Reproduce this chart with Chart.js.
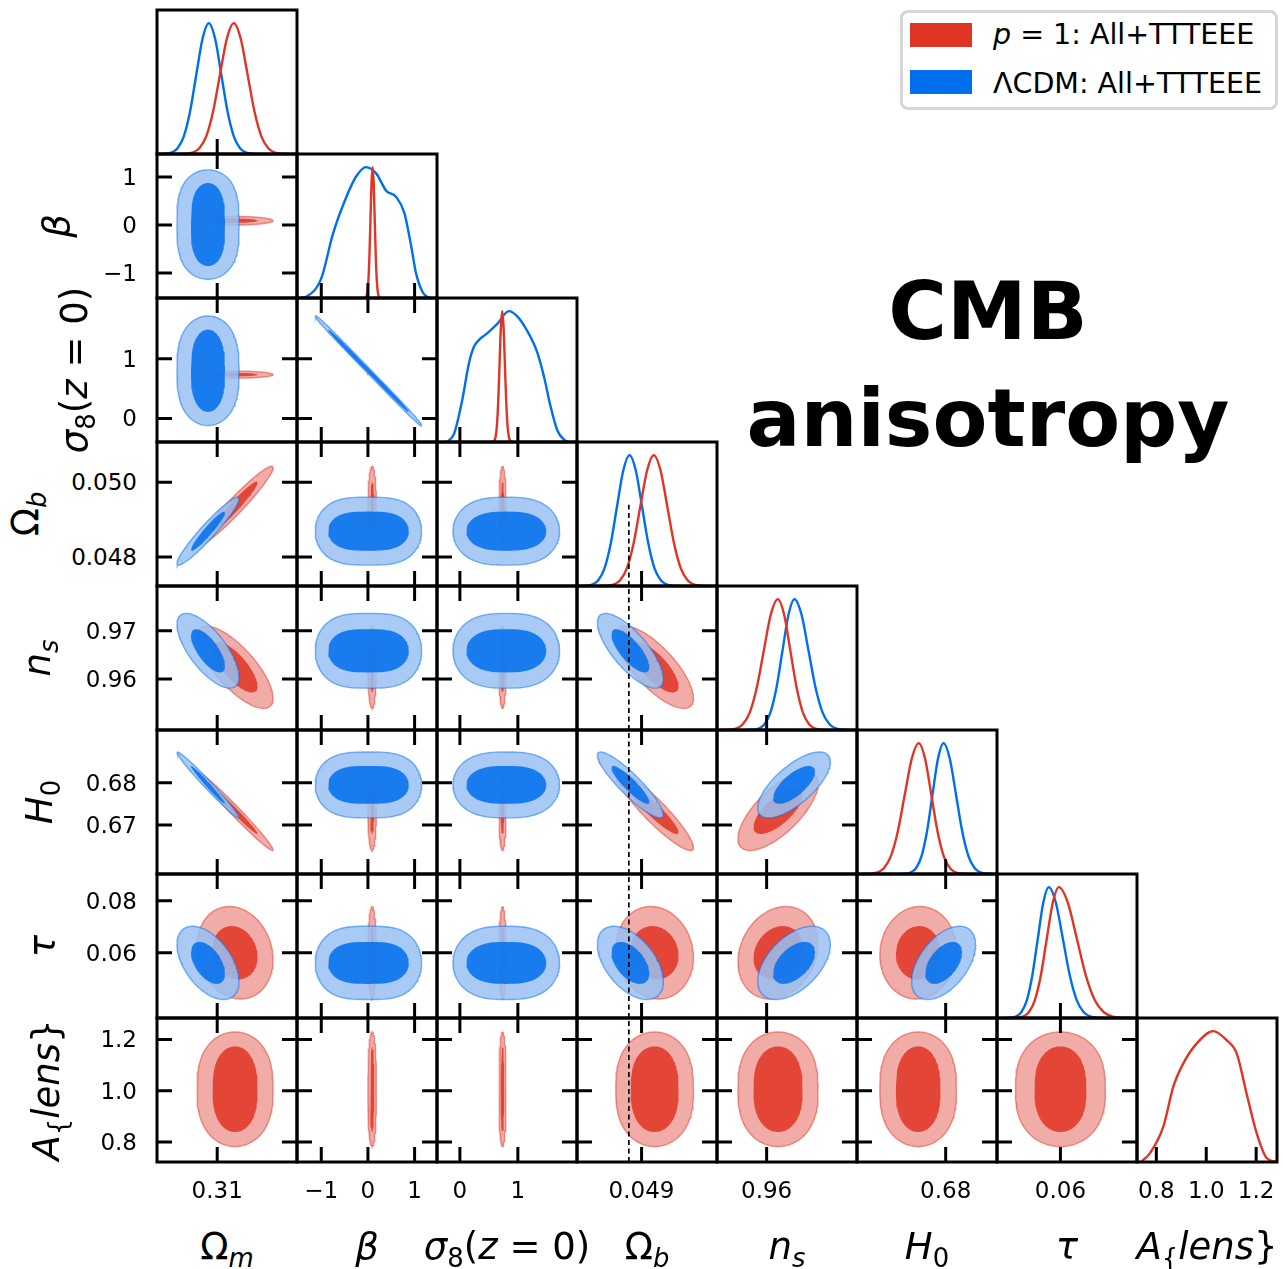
<!DOCTYPE html>
<html>
<head>
<meta charset="utf-8">
<title>CMB anisotropy triangle plot</title>
<script src="https://cdn.jsdelivr.net/npm/chart.js@4.4.1/dist/chart.umd.min.js"></script>
<style>
  html, body { margin: 0; padding: 0; background: #fff; }
  #fig { position: relative; width: 1283px; height: 1269px; overflow: hidden; font-family: "DejaVu Sans", sans-serif; color: #000; }
  #fig canvas { position: absolute; }
  .txt { position: absolute; white-space: nowrap; }
  .tick { font-size: 23px; line-height: 23px; }
  .axis { font-size: 37px; line-height: 37px; }
  .sb { font-size: 0.7em; position: relative; top: 0.3em; }
  #legend { position: absolute; left: 900px; top: 10px; width: 378px; height: 100px; box-sizing: border-box; border: 3px solid #d6d6d6; border-radius: 8px; background: #fff; }
  .swatch { position: absolute; left: 910px; width: 62px; height: 24px; }
  .legtxt { font-size: 28.5px; line-height: 28px; }
  .title { font-size: 80px; line-height: 80px; font-weight: bold; }
</style>
</head>
<body>
<div id="fig"></div>
<script>
// parameters, in triangle order
const paramLabels = [
  'Ω<span class="sb"><i>m</i></span>',
  '<i>β</i>',
  '<i>σ</i><span class="sb">8</span>(<i>z</i> = 0)',
  'Ω<span class="sb"><i>b</i></span>',
  '<i>n</i><span class="sb"><i>s</i></span>',
  '<i>H</i><span class="sb">0</span>',
  '<i>τ</i>',
  '<i>A</i><span class="sb">{</span><i>lens</i>}'
];
const axisMin = [0.2928, -1.52, -0.395, 0.04722, 0.9494, 0.6584, 0.0349, 0.7225];
const axisMax = [0.3328, 1.48, 2.02, 0.05108, 0.9793, 0.6925, 0.0903, 1.2835];

const xTickValues = [[0.31], [-1, 0, 1], [0, 1], [0.049], [0.96], [0.68], [0.06], [0.8, 1.0, 1.2]];
const xTickLabels = [["0.31"], ["−1", "0", "1"], ["0", "1"], ["0.049"], ["0.96"], ["0.68"], ["0.06"], ["0.8", "1.0", "1.2"]];
const yTickValues = [[], [-1, 0, 1], [0, 1], [0.048, 0.05], [0.96, 0.97], [0.67, 0.68], [0.06, 0.08], [0.8, 1.0, 1.2]];
const yTickLabels = [[], ["−1", "0", "1"], ["0", "1"], ["0.048", "0.050"], ["0.96", "0.97"], ["0.67", "0.68"], ["0.06", "0.08"], ["0.8", "1.0", "1.2"]];

// 1D marginals (peak normalised to 1)
const gaussProfile = [0.0003, 0.002, 0.011, 0.044, 0.135, 0.325, 0.607, 0.882, 1, 0.882, 0.607, 0.325, 0.135, 0.044, 0.011, 0.002, 0.0003];
const omegaMBlueX = [0.29332, 0.29511, 0.29689, 0.29868, 0.30046, 0.30225, 0.30403, 0.30582, 0.3076, 0.30939, 0.31117, 0.31296, 0.31474, 0.31653, 0.31831, 0.3201, 0.32188];
const omegaMRedX = [0.29898, 0.30095, 0.30292, 0.30489, 0.30686, 0.30883, 0.3108, 0.31277, 0.31474, 0.31671, 0.31868, 0.32065, 0.32262, 0.32459, 0.32656, 0.32853, 0.3305];
const betaBlueX = [-1.45, -1.32, -1.0, -0.75, -0.465, -0.25, -0.04, 0.18, 0.39, 0.61, 0.78, 0.93, 1.03, 1.18, 1.32];
const betaBlueY = [0, 0.01, 0.15, 0.49, 0.77, 0.93, 1.0, 0.95, 0.82, 0.77, 0.65, 0.39, 0.19, 0.04, 0];
const betaRedX = [-0.08, -0.0575, -0.035, -0.0125, 0.01, 0.0325, 0.055, 0.0775, 0.1, 0.1225, 0.145, 0.1675, 0.19, 0.2125, 0.235, 0.2575, 0.28];
const sigma8BlueX = [-0.22, -0.1, 0.04, 0.155, 0.24, 0.33, 0.47, 0.64, 0.845, 0.99, 1.16, 1.33, 1.45, 1.56, 1.68, 1.79, 1.88];
const sigma8BlueY = [0, 0.064, 0.32, 0.6, 0.725, 0.78, 0.83, 0.9, 1.0, 0.96, 0.85, 0.69, 0.5, 0.28, 0.09, 0.02, 0];
const sigma8RedX = [0.55, 0.5725, 0.595, 0.6175, 0.64, 0.6625, 0.685, 0.7075, 0.73, 0.7525, 0.775, 0.7975, 0.82, 0.8425, 0.865, 0.8875, 0.91];
const omegaBBlueX = [0.047288, 0.047461, 0.047633, 0.047806, 0.047978, 0.048151, 0.048323, 0.048496, 0.048668, 0.048841, 0.049013, 0.049186, 0.049358, 0.049531, 0.049703, 0.049876, 0.050048];
const omegaBRedX = [0.04785, 0.048036, 0.048222, 0.048408, 0.048594, 0.04878, 0.048966, 0.049152, 0.049338, 0.049524, 0.04971, 0.049896, 0.050082, 0.050268, 0.050454, 0.05064, 0.050826];
const nsBlueX = [0.9557, 0.95698, 0.95826, 0.95954, 0.96082, 0.96211, 0.96339, 0.96467, 0.96595, 0.96745, 0.96894, 0.97044, 0.97193, 0.97343, 0.97492, 0.97642, 0.97791];
const nsRedX = [0.95043, 0.95192, 0.95342, 0.95491, 0.95641, 0.9579, 0.9594, 0.96089, 0.96239, 0.96373, 0.96506, 0.9664, 0.96773, 0.96907, 0.9704, 0.97174, 0.97307];
const h0BlueX = [0.66875, 0.67009, 0.67143, 0.67277, 0.67411, 0.67545, 0.67679, 0.67813, 0.67947, 0.68099, 0.68251, 0.68404, 0.68556, 0.68708, 0.6886, 0.69012, 0.69165];
const h0RedX = [0.65981, 0.66152, 0.66322, 0.66493, 0.66663, 0.66834, 0.67004, 0.67175, 0.67345, 0.67497, 0.67649, 0.67802, 0.67954, 0.68106, 0.68258, 0.6841, 0.68563];
const tauBlueX = [0.03799, 0.04016, 0.04234, 0.04452, 0.04669, 0.04887, 0.05105, 0.05322, 0.0554, 0.05817, 0.06094, 0.06371, 0.06648, 0.06925, 0.07202, 0.07479, 0.07756];
const tauRedX = [0.04036, 0.04274, 0.04511, 0.04749, 0.04986, 0.05224, 0.05461, 0.05699, 0.05936, 0.06292, 0.06648, 0.07005, 0.07361, 0.07717, 0.08073, 0.08429, 0.08785];
const aLensRedX = [0.738, 0.774, 0.828, 0.868, 0.908, 0.962, 1.028, 1.082, 1.122, 1.162, 1.202, 1.242, 1.283];
const aLensRedY = [0, 0.066, 0.27, 0.575, 0.753, 0.906, 1.0, 0.93, 0.83, 0.52, 0.22, 0.03, 0];

// 2D contours: centre and half-extent of the 68% / 95% regions
const redCentre = [0.3151, 0.09, 0.735, 0.04936, 0.96243, 0.6733, 0.06, 1.006];
const redHalf68 = [0.00643, 0.045, 0.03, 0.00066, 0.00524, 0.00543, 0.01027, 0.1668];
const redHalf95 = [0.01086, 0.09, 0.06, 0.00107, 0.00855, 0.00933, 0.0178, 0.2233];
const redBoxiness = [2, 2, 2, 2, 2, 2, 2, 2.6];
const blueCentre = [0.30737, 0.01, 0.8, 0.04869, 0.96585, 0.6795, 0.0561, null];
const blueHalf68 = [0.00486, 0.865, 0.69, 0.000524, 0.00449, 0.00449, 0.00808, null];
const blueHalf95 = [0.00886, 1.14, 0.92, 0.00091, 0.00776, 0.0078, 0.0141, null];
const blueBoxiness = [2, 3.2, 2.8, 2, 2, 2, 2, 2];
// lower triangle: row j holds the correlation of parameter j with parameters 0..j-1
const redCorrelation = [
  [],
  [0],
  [0, -0.99],
  [0.96, 0, 0],
  [-0.75, 0, 0, -0.75],
  [-0.985, 0, 0, -0.92, 0.7],
  [-0.15, 0, 0, -0.1, 0.2, 0.05],
  [0, 0, 0, 0, 0, 0, 0]
];
const blueCorrelation = [
  [],
  [0],
  [0, -0.998],
  [0.95, 0, 0],
  [-0.7, 0, 0, -0.75],
  [-0.985, 0, 0, -0.9, 0.7],
  [-0.5, 0, 0, -0.5, 0.5, 0.5],
  [0, 0, 0, 0, 0, 0, 0]
];

const fiducialOmegaB = 0.04865;
const fiducialTop1D = 0.62;

// ------------------------------------------------------------------
const panelLeft = 157, panelTop = 10, panelW = 140, panelH = 144, margin = 6, tickLen = 15;
const redLine = "#E03424", blueLine = "#006FED";
const yLabelX = [0, 56, 76, 27, 39, 41, 42, 48];

const models = [
  { centre: redCentre, h68: redHalf68, h95: redHalf95, box: redBoxiness, corr: redCorrelation,
    inner: "rgba(224, 52, 36, 0.85)", outer: "rgba(240, 157, 153, 0.85)", edge: "rgba(224, 52, 36, 0.5)" },
  { centre: blueCentre, h68: blueHalf68, h95: blueHalf95, box: blueBoxiness, corr: blueCorrelation,
    inner: "rgba(0, 111, 237, 0.85)", outer: "rgba(153, 193, 243, 0.85)", edge: "rgba(0, 111, 237, 0.5)" }
];

// draw order inside each 1D panel: first entry at the bottom
const curves1D = [
  [[omegaMBlueX, gaussProfile, blueLine], [omegaMRedX, gaussProfile, redLine]],
  [[betaBlueX, betaBlueY, blueLine], [betaRedX, gaussProfile, redLine]],
  [[sigma8BlueX, sigma8BlueY, blueLine], [sigma8RedX, gaussProfile, redLine]],
  [[omegaBBlueX, gaussProfile, blueLine], [omegaBRedX, gaussProfile, redLine]],
  [[nsBlueX, gaussProfile, blueLine], [nsRedX, gaussProfile, redLine]],
  [[h0BlueX, gaussProfile, blueLine], [h0RedX, gaussProfile, redLine]],
  [[tauBlueX, gaussProfile, blueLine], [tauRedX, gaussProfile, redLine]],
  [[aLensRedX, aLensRedY, redLine]]
];

const fig = document.getElementById("fig");

function addText(cls, html, left, top, transform) {
  const el = document.createElement("div");
  el.className = "txt " + cls;
  el.innerHTML = html;
  el.style.left = left + "px";
  el.style.top = top + "px";
  if (transform) el.style.transform = transform;
  fig.appendChild(el);
  return el;
}

function contourPoints(cx, cy, hx, hy, rho, nx, ny) {
  const pts = [];
  const steps = 120;
  const q = Math.sqrt(1 - rho * rho);
  for (let k = 0; k <= steps; k++) {
    const t = (2 * Math.PI * k) / steps;
    const c = Math.cos(t), s = Math.sin(t);
    const u = Math.sign(c) * Math.pow(Math.abs(c), 2 / nx);
    const v = Math.sign(s) * Math.pow(Math.abs(s), 2 / ny);
    pts.push({ x: cx + hx * u, y: cy + hy * (rho * u + q * v) });
  }
  return pts;
}

const framePlugin = {
  id: "panelFrame",
  afterDatasetsDraw(chart, args, opts) {
    const { ctx, chartArea: a, scales } = chart;
    ctx.save();
    ctx.strokeStyle = "#000";
    ctx.lineWidth = 3;
    ctx.beginPath();
    opts.xTicks.forEach(function (v) {
      const px = scales.x.getPixelForValue(v);
      ctx.moveTo(px, a.bottom);
      ctx.lineTo(px, a.bottom - tickLen);
      if (!opts.oneD) {
        ctx.moveTo(px, a.top);
        ctx.lineTo(px, a.top + tickLen);
      }
    });
    opts.yTicks.forEach(function (v) {
      const py = scales.y.getPixelForValue(v);
      ctx.moveTo(a.left, py);
      ctx.lineTo(a.left + tickLen, py);
      ctx.moveTo(a.right, py);
      ctx.lineTo(a.right - tickLen, py);
    });
    ctx.stroke();
    ctx.strokeRect(a.left, a.top, a.right - a.left, a.bottom - a.top);
    ctx.restore();
  }
};

function lineSet(points, colour) {
  return {
    data: points, borderColor: colour, borderWidth: 2.4, fill: false,
    pointRadius: 0, cubicInterpolationMode: "monotone", clip: 2
  };
}

function makePanel(row, col) {
  const canvas = document.createElement("canvas");
  canvas.width = panelW + 2 * margin;
  canvas.height = panelH + 2 * margin;
  const left = panelLeft + col * panelW - margin;
  const top = panelTop + row * panelH - margin;
  canvas.style.left = left + "px";
  canvas.style.top = top + "px";
  fig.appendChild(canvas);

  const oneD = row === col;
  const datasets = [];
  let yMin, yMax;

  if (oneD) {
    yMin = 0;
    yMax = 1.1;
    curves1D[col].forEach(function (c) {
      const pts = c[0].map(function (x, i) { return { x: x, y: c[1][i] }; });
      datasets.push(lineSet(pts, c[2]));
    });
  } else {
    yMin = axisMin[row];
    yMax = axisMax[row];
    models.forEach(function (m) {
      if (m.centre[col] === null || m.centre[row] === null) return;
      const rho = m.corr[row][col];
      const nx = m.box[col], ny = m.box[row];
      const outer = contourPoints(m.centre[col], m.centre[row], m.h95[col], m.h95[row], rho, nx, ny);
      const inner = contourPoints(m.centre[col], m.centre[row], m.h68[col], m.h68[row], rho, nx, ny);
      datasets.push({ data: outer, fill: "shape", backgroundColor: m.outer, borderColor: m.edge,
        borderWidth: 1.4, pointRadius: 0, tension: 0, clip: 0 });
      datasets.push({ data: inner, fill: "shape", backgroundColor: m.inner, borderColor: "rgba(0,0,0,0)",
        borderWidth: 0, pointRadius: 0, tension: 0, clip: 0 });
    });
  }

  if (col === 3) {
    const top = oneD ? fiducialTop1D : yMax;
    datasets.push({
      data: [{ x: fiducialOmegaB, y: yMin }, { x: fiducialOmegaB, y: top }],
      borderColor: "#000", borderWidth: 1.7, borderDash: [5, 3.5], fill: false, pointRadius: 0, clip: 0
    });
  }

  // Chart.js paints the first dataset on top, so hand them over in reverse
  datasets.reverse();

  const chart = new Chart(canvas, {
    type: "line",
    data: { datasets: datasets },
    options: {
      responsive: false,
      animation: false,
      events: [],
      layout: { padding: margin },
      scales: {
        x: { type: "linear", min: axisMin[col], max: axisMax[col], display: false },
        y: { type: "linear", min: yMin, max: yMax, display: false }
      },
      plugins: {
        legend: { display: false },
        tooltip: { enabled: false },
        panelFrame: { xTicks: xTickValues[col], yTicks: oneD ? [] : yTickValues[row], oneD: oneD }
      }
    },
    plugins: [framePlugin]
  });

  if (row === paramLabels.length - 1) {
    xTickValues[col].forEach(function (v, i) {
      const px = left + chart.scales.x.getPixelForValue(v);
      addText("tick", xTickLabels[col][i], px, 1179, "translateX(-50%)");
    });
  }
  if (col === 0 && row > 0) {
    yTickValues[row].forEach(function (v, i) {
      const py = top + chart.scales.y.getPixelForValue(v);
      addText("tick", yTickLabels[row][i], 137, py - 11, "translateX(-100%)");
    });
  }
  return chart;
}

for (let row = 0; row < paramLabels.length; row++) {
  for (let col = 0; col <= row; col++) {
    makePanel(row, col);
  }
}

// axis titles
paramLabels.forEach(function (lab, i) {
  addText("axis", lab, panelLeft + i * panelW + panelW / 2, 1228, "translateX(-50%)");
  if (i > 0) {
    addText("axis", lab, yLabelX[i], panelTop + i * panelH + panelH / 2, "translate(-50%, -50%) rotate(-90deg)");
  }
});

// legend
const legend = document.createElement("div");
legend.id = "legend";
fig.appendChild(legend);
const redSwatch = document.createElement("div");
redSwatch.className = "swatch";
redSwatch.style.top = "23px";
redSwatch.style.background = redLine;
fig.appendChild(redSwatch);
const blueSwatch = document.createElement("div");
blueSwatch.className = "swatch";
blueSwatch.style.top = "70px";
blueSwatch.style.background = blueLine;
fig.appendChild(blueSwatch);
addText("legtxt", "<i>p</i> = 1: All+TTTEEE", 993, 21);
addText("legtxt", "ΛCDM: All+TTTEEE", 993, 70);

// title
addText("title", "CMB", 988, 272, "translateX(-50%)");
addText("title", "anisotropy", 988, 379, "translateX(-50%)");
</script>
</body>
</html>
